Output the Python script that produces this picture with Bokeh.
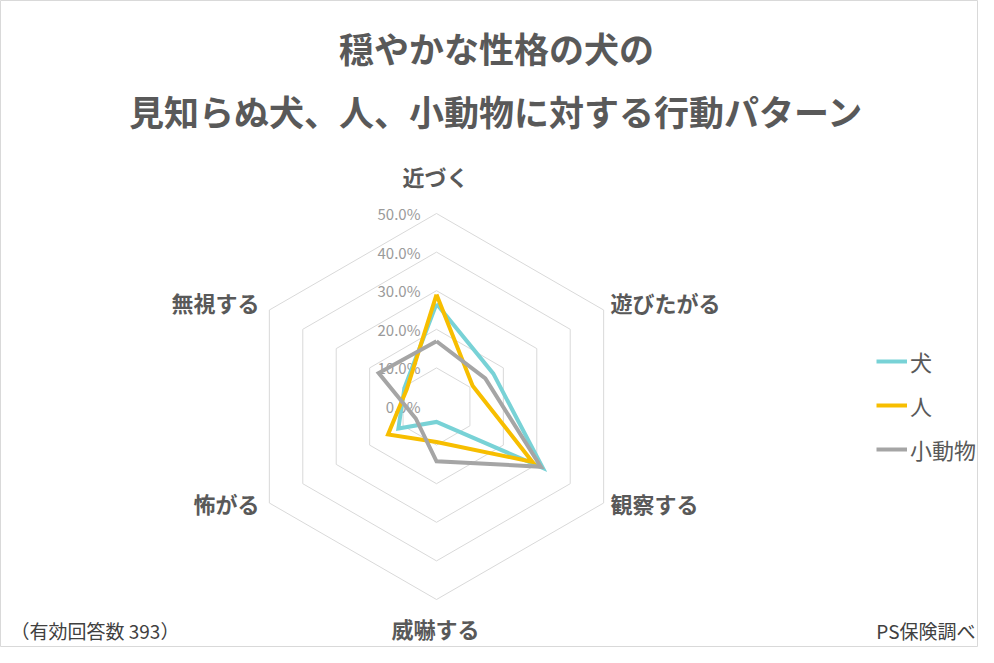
import numpy as np
from bokeh.plotting import figure
from bokeh.models import Range1d, Label, Legend, LegendItem, ColumnDataSource
from bokeh.core.properties import value
from bokeh.embed import file_html
from bokeh.resources import INLINE

# ---------------- data ----------------
title_lines = ["穏やかな性格の犬の", "見知らぬ犬、人、小動物に対する行動パターン"]
categories = ["近づく", "遊びたがる", "観察する", "威嚇する", "怖がる", "無視する"]
series_names = ["犬", "人", "小動物"]
dog = [26.6, 17.0, 31.8, 4.0, 11.4, 9.6]
person = [29.0, 10.8, 28.7, 9.2, 14.5, 8.9]
small_animal = [16.9, 14.6, 31.2, 14.2, 6.2, 17.3]
radial_ticks = [0, 10, 20, 30, 40, 50]
radial_tick_labels = ["0.0%", "10.0%", "20.0%", "30.0%", "40.0%", "50.0%"]
note_left = "（有効回答数 393）"
note_right = "PS保険調べ"

# ---------------- layout ----------------
W, H = 978, 647
S = 3.86            # pixels per percent
CX, CY = 436, 406   # chart centre in pixels (from top-left)
FONT = "Noto Sans CJK JP"
TXT = "#595959"
colors = ["#78D2D6", "#F7BE00", "#A5A5A5"]

p = figure(width=W, height=H, output_backend="svg", toolbar_location=None,
           x_axis_type=None, y_axis_type=None, min_border=0,
           x_range=Range1d(-CX / S, (W - CX) / S),
           y_range=Range1d(-(H - CY) / S, CY / S))
p.grid.visible = False
p.outline_line_color = "#D9D9D9"
p.background_fill_color = "white"
p.border_fill_color = "white"

n = len(categories)
angles = np.pi / 2 - np.arange(n) * 2 * np.pi / n

# grid hexagons
gx, gy = [], []
for t in radial_ticks[1:]:
    gx.append(list(t * np.cos(angles)) + [t * np.cos(angles[0])])
    gy.append(list(t * np.sin(angles)) + [t * np.sin(angles[0])])
p.multi_line(gx, gy, line_color="#D9D9D9", line_width=1)

# radial tick labels
p.text(x=[-16 / S] * len(radial_ticks), y=radial_ticks, text=radial_tick_labels,
       text_align="right", text_baseline="middle",
       text_font=value(FONT), text_font_size="15px", text_color="#9A9A9A")

# series
renderers = []
for name, vals, col in zip(series_names, [dog, person, small_animal], colors):
    v = np.array(vals + [vals[0]])
    a = np.concatenate([angles, angles[:1]])
    src = ColumnDataSource(dict(x=v * np.cos(a), y=v * np.sin(a)))
    r = p.line("x", "y", source=src, line_color=col, line_width=4, line_join="miter")
    renderers.append((name, r))

# helpers: pixel -> data
def dx(X):
    return (X - CX) / S

def dy(Y):
    return (CY - Y) / S

# category labels
cat_pos = [(435, 175, "center"), (610, 301, "left"), (610, 502, "left"),
           (435, 627, "center"), (259, 502, "right"), (259, 301, "right")]
for lab, (X, Y, al) in zip(categories, cat_pos):
    p.add_layout(Label(x=dx(X), y=dy(Y), text=lab, text_align=al, text_baseline="middle",
                       text_font=FONT, text_font_size="22px", text_font_style="bold",
                       text_color=TXT))

# title
for line, Y in zip(title_lines, [47, 110]):
    p.add_layout(Label(x=dx(496), y=dy(Y), text=line, text_align="center",
                       text_baseline="middle", text_font=FONT, text_font_size="35px",
                       text_font_style="bold", text_color=TXT))

# notes
p.add_layout(Label(x=dx(10), y=dy(630), text=note_left, text_align="left",
                   text_baseline="middle", text_font=FONT, text_font_size="19px",
                   text_color="#404040"))
p.add_layout(Label(x=dx(975), y=dy(630), text=note_right, text_align="right",
                   text_baseline="middle", text_font=FONT, text_font_size="19px",
                   text_color="#404040"))

# legend
legend = Legend(items=[LegendItem(label=nm, renderers=[r]) for nm, r in renderers],
                location=(876, 182), orientation="vertical",
                glyph_width=31, glyph_height=20, label_height=20,
                label_standoff=3, spacing=12, padding=0, margin=0,
                label_text_font=FONT, label_text_font_size="22px",
                label_text_color=TXT, border_line_alpha=0, background_fill_alpha=0)
p.add_layout(legend)

open("out.html", "w").write(file_html(p, INLINE))
